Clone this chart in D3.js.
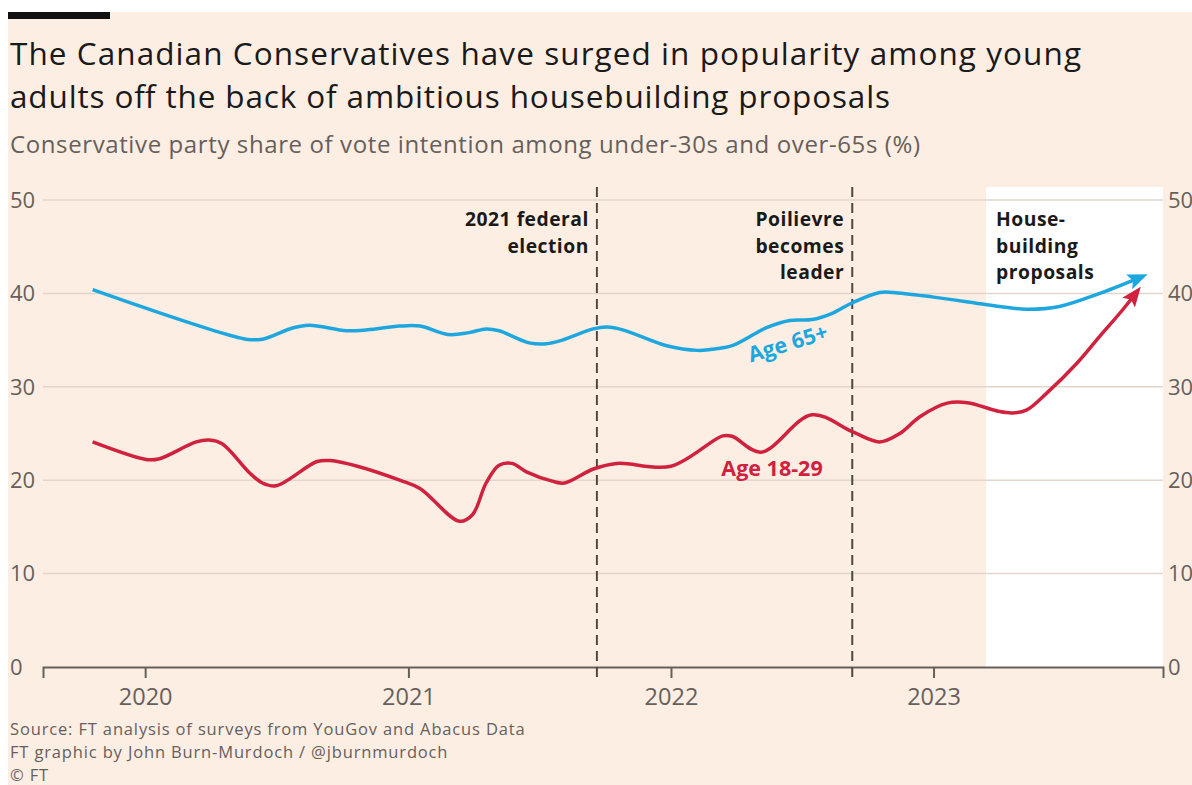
<!DOCTYPE html>
<html>
<head>
<meta charset="utf-8">
<script src="https://cdn.jsdelivr.net/npm/d3@7"></script>
<style>
  body { margin: 0; background: #fff; }
  svg { display: block; font-family: "Open Sans", "Noto Sans", sans-serif; }
</style>
</head>
<body>
<svg id="chart"></svg>
<script>
// Conservative vote share, age 65+
var datesOld = ["2019-10-20", "2020-05-20", "2020-06-12", "2020-07-24", "2020-08-16", "2020-10-07",
  "2020-11-05", "2020-12-20", "2021-01-17", "2021-02-25", "2021-03-26", "2021-04-19", "2021-05-07",
  "2021-06-18", "2021-07-12", "2021-08-03", "2021-09-15", "2021-10-04", "2021-10-26", "2021-12-26",
  "2022-02-07", "2022-02-25", "2022-03-27", "2022-05-13", "2022-06-15", "2022-07-16", "2022-08-14",
  "2022-09-10", "2022-10-18", "2022-11-06", "2023-01-01", "2023-04-03", "2023-05-10", "2023-06-25",
  "2023-08-20", "2023-10-18"]
var valuesOld = [40.4, 35.1, 35.1, 36.3, 36.6, 36.0,
  36.1, 36.5, 36.5, 35.6, 35.8, 36.2, 36.0,
  34.7, 34.6, 35.0, 36.2, 36.4, 36.1, 34.4,
  33.9, 34.0, 34.4, 36.3, 37.1, 37.2, 37.9,
  39.0, 40.1, 40.1, 39.6, 38.6, 38.3, 38.6,
  40.0, 41.8]

// Conservative vote share, age 18-29
var datesYoung = ["2019-10-20", "2020-01-04", "2020-01-21", "2020-03-12", "2020-03-30", "2020-04-17",
  "2020-05-25", "2020-06-12", "2020-07-01", "2020-08-27", "2020-09-14", "2020-10-22", "2020-12-20",
  "2021-01-17", "2021-03-13", "2021-03-31", "2021-04-19", "2021-05-07", "2021-05-25", "2021-06-14",
  "2021-07-20", "2021-08-06", "2021-09-15", "2021-10-18", "2022-01-01", "2022-03-14", "2022-03-27",
  "2022-05-06", "2022-07-16", "2022-09-10", "2022-10-18", "2022-11-15", "2022-12-13", "2023-01-20",
  "2023-02-17", "2023-04-03", "2023-04-21", "2023-05-10", "2023-06-07", "2023-07-19", "2023-08-20",
  "2023-09-21", "2023-10-11"]
var valuesYoung = [24.1, 22.2, 22.3, 24.1, 24.3, 23.9,
  20.8, 19.7, 19.4, 22.0, 22.1, 21.5, 20.0,
  19.1, 15.6, 16.3, 19.7, 21.6, 21.8, 20.9,
  19.9, 19.7, 21.2, 21.8, 21.5, 24.75, 24.7,
  23.0, 27.0, 25.2, 24.1, 25.0, 26.8, 28.25,
  28.3, 27.35, 27.2, 27.5, 29.3, 32.5, 35.4,
  38.25, 40.2]

var yTicks = [0, 10, 20, 30, 40, 50]
var xTickLabels = ["2020", "2021", "2022", "2023"]
var eventDates = ["2021-09-20", "2022-09-10"]
var eventLabels = [["2021 federal", "election"], ["Poilievre", "becomes", "leader"]]
var highlightStart = "2023-03-15"
var highlightLabel = ["House-", "building", "proposals"]

var width = 1192
var height = 785
var blue = "#1ea7de"
var red = "#d0213f"
var grey = "#66605c"

var parse = d3.timeParse("%Y-%m-%d")

var svg = d3.select("#chart").attr("width", width).attr("height", height)

// paper background and FT bar
svg.append("rect").attr("x", 8).attr("y", 12).attr("width", width - 8).attr("height", height - 12).attr("fill", "#fdeee3")
svg.append("rect").attr("x", 8).attr("y", 12).attr("width", 102).attr("height", 7).attr("fill", "#111")

svg.append("text").attr("x", 10).attr("y", 65).attr("font-size", 31.5).attr("fill", "#1a1a1a")
  .attr("textLength", 1071).attr("lengthAdjust", "spacing")
  .text("The Canadian Conservatives have surged in popularity among young")
svg.append("text").attr("x", 10).attr("y", 108).attr("font-size", 31.5).attr("fill", "#1a1a1a")
  .attr("textLength", 880).attr("lengthAdjust", "spacing")
  .text("adults off the back of ambitious housebuilding proposals")
svg.append("text").attr("x", 10).attr("y", 153).attr("font-size", 24).attr("fill", grey)
  .attr("textLength", 910).attr("lengthAdjust", "spacing")
  .text("Conservative party share of vote intention among under-30s and over-65s (%)")

var x = d3.scaleTime()
  .domain([parse("2019-08-12"), parse("2023-11-16")])
  .range([43, 1163])
var y = d3.scaleLinear().domain([0, 50]).range([667, 200])

// white highlight box
svg.append("rect")
  .attr("x", x(parse(highlightStart)))
  .attr("y", 187)
  .attr("width", x.range()[1] - x(parse(highlightStart)))
  .attr("height", y(0) - 187)
  .attr("fill", "#fff")

// gridlines
svg.append("g").selectAll("line")
  .data(yTicks.filter(function (d) { return d > 0 }))
  .enter().append("line")
    .attr("x1", x.range()[0]).attr("x2", x.range()[1])
    .attr("y1", function (d) { return y(d) }).attr("y2", function (d) { return y(d) })
    .attr("stroke", "#e2d6cc").attr("stroke-width", 1.5)

// left and right y labels
svg.append("g").selectAll("text")
  .data(yTicks)
  .enter().append("text")
    .attr("x", 10).attr("y", function (d) { return y(d) })
    .attr("dy", "0.35em").attr("font-size", 22).attr("fill", grey)
    .text(function (d) { return d })
svg.append("g").selectAll("text")
  .data(yTicks)
  .enter().append("text")
    .attr("x", 1168).attr("y", function (d) { return y(d) })
    .attr("dy", "0.35em").attr("font-size", 22).attr("fill", grey)
    .text(function (d) { return d })

// x axis
var xAxis = d3.axisBottom(x)
  .tickValues(xTickLabels.map(function (d) { return parse(d + "-01-01") }))
  .tickFormat(d3.timeFormat("%Y"))
  .tickSize(11)
  .tickPadding(10)
var gx = svg.append("g").attr("transform", "translate(0," + y(0) + ")").call(xAxis)
gx.select(".domain").attr("stroke", grey).attr("stroke-width", 2)
gx.selectAll(".tick line").attr("stroke", grey).attr("stroke-width", 2)
gx.selectAll(".tick text").attr("font-size", 23.5).attr("fill", grey).attr("font-family", "Open Sans")

// event lines
eventDates.forEach(function (d, i) {
  var ex = x(parse(d))
  svg.append("line")
    .attr("x1", ex).attr("x2", ex).attr("y1", 187).attr("y2", 680)
    .attr("stroke", "#4d4845").attr("stroke-width", 2).attr("stroke-dasharray", "10,6")
  var t = svg.append("text").attr("text-anchor", "end").attr("font-size", 19.3)
    .attr("font-weight", 700).attr("letter-spacing", 0.5).attr("fill", "#1a1a1a")
  eventLabels[i].forEach(function (s, j) {
    t.append("tspan").attr("x", ex - 8).attr("y", 226 + j * 26.5).text(s)
  })
})

var hl = svg.append("text").attr("font-size", 19.3).attr("font-weight", 700)
  .attr("letter-spacing", 0.5).attr("fill", "#1a1a1a")
highlightLabel.forEach(function (s, j) {
  hl.append("tspan").attr("x", x(parse(highlightStart)) + 10).attr("y", 226 + j * 26.5).text(s)
})

// arrowheads
var defs = svg.append("defs")
;[["arrow-blue", blue], ["arrow-red", red]].forEach(function (m) {
  defs.append("marker")
    .attr("id", m[0])
    .attr("viewBox", "0 0 20 16")
    .attr("refX", 14).attr("refY", 8)
    .attr("markerWidth", 20).attr("markerHeight", 16)
    .attr("markerUnits", "userSpaceOnUse")
    .attr("orient", "auto")
    .append("path").attr("d", "M0,0 L20,8 L0,16 L4,8 Z").attr("fill", m[1])
})

var line = d3.line()
  .x(function (d) { return x(d.date) })
  .y(function (d) { return y(d.value) })
  .curve(d3.curveCatmullRom.alpha(0.5))

var oldSeries = datesOld.map(function (d, i) { return { date: parse(d), value: valuesOld[i] } })
var youngSeries = datesYoung.map(function (d, i) { return { date: parse(d), value: valuesYoung[i] } })

svg.append("path").datum(oldSeries)
  .attr("d", line).attr("fill", "none").attr("stroke", blue).attr("stroke-width", 3.5)
  .attr("stroke-linejoin", "round").attr("marker-end", "url(#arrow-blue)")
svg.append("path").datum(youngSeries)
  .attr("d", line).attr("fill", "none").attr("stroke", red).attr("stroke-width", 3.5)
  .attr("stroke-linejoin", "round").attr("marker-end", "url(#arrow-red)")

// series labels
svg.append("text")
  .attr("transform", "translate(" + x(parse("2022-04-22")) + "," + y(32.6) + ") rotate(-17)")
  .attr("font-size", 21.5).attr("font-weight", 700).attr("fill", blue)
  .text("Age 65+")
svg.append("text")
  .attr("x", x(parse("2022-03-12"))).attr("y", y(20.4))
  .attr("font-size", 21.5).attr("font-weight", 700).attr("fill", red)
  .text("Age 18-29")

// footer
var footer = ["Source: FT analysis of surveys from YouGov and Abacus Data",
  "FT graphic by John Burn-Murdoch / @jburnmurdoch", "\u00a9 FT"]
svg.append("g").selectAll("text")
  .data(footer)
  .enter().append("text")
    .attr("x", 10).attr("y", function (d, i) { return 735 + i * 23 })
    .attr("font-size", 16.5).attr("letter-spacing", 0.85).attr("fill", grey)
    .text(function (d) { return d })
</script>
</body>
</html>
